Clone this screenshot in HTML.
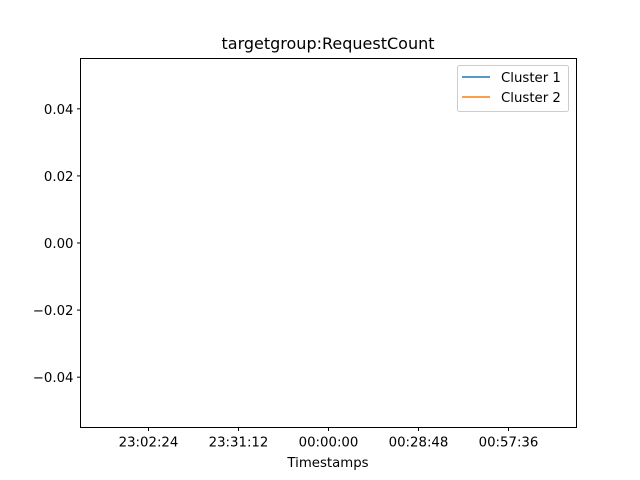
<!DOCTYPE html>
<html><head><meta charset="utf-8"><style>
html,body{margin:0;padding:0;background:#fff;}
svg{display:block;font-family:"DejaVu Sans","Liberation Sans",sans-serif;}
</style></head><body>
<svg id="chart" width="640" height="480" viewBox="0 0 640 480">
<rect x="0" y="0" width="640" height="480" fill="#fff"/>
<text x="328" y="49" text-anchor="middle" font-size="16" fill="#000">targetgroup:RequestCount</text>
<g id="yticks"></g>
<g id="xticks"></g>
<g id="series"></g>
<rect x="80.5" y="58.5" width="496" height="369" fill="none" stroke="#000" stroke-width="1"/>
<text x="328" y="467" text-anchor="middle" font-size="13.3" fill="#000">Timestamps</text>
<g>
<rect x="457.5" y="65.5" width="111" height="46" rx="2" fill="#fff" fill-opacity="0.8" stroke="#ccc"/>
<line x1="462" y1="77" x2="490" y2="77" stroke="#1f77b4" stroke-width="1.5"/>
<text x="501" y="82" font-size="13.3" fill="#000">Cluster 1</text>
<line x1="462" y1="97" x2="490" y2="97" stroke="#ff7f0e" stroke-width="1.5"/>
<text x="501" y="102" font-size="13.3" fill="#000">Cluster 2</text>
</g>
</svg>
<script>
const yTickValues=[0.04,0.02,0.00,-0.02,-0.04];
const yTickLabels=["0.04","0.02","0.00","\u22120.02","\u22120.04"];
const xTickMinutes=[-57.6,-28.8,0,28.8,57.6];
const xTickLabels=["23:02:24","23:31:12","00:00:00","00:28:48","00:57:36"];
const cluster1Times=[];
const cluster1Values=[];
const cluster2Times=[];
const cluster2Values=[];
const NS="http://www.w3.org/2000/svg";
const X0=80.5,X1=576.5,Y0=58.5,Y1=427.5;
const xMin=-79.36,xMax=79.36,yMin=-0.055,yMax=0.055;
function xs(v){return X0+(v-xMin)/(xMax-xMin)*(X1-X0);}
function ys(v){return Y1-(v-yMin)/(yMax-yMin)*(Y1-Y0);}
const yg=document.getElementById('yticks');
yTickValues.forEach((v,i)=>{
 const y=ys(v);
 const l=document.createElementNS(NS,'line');
 l.setAttribute('x1',X0-3.5);l.setAttribute('x2',X0);l.setAttribute('y1',y);l.setAttribute('y2',y);l.setAttribute('stroke','#000');
 
 
 yg.appendChild(l);
 const t=document.createElementNS(NS,'text');
 t.setAttribute('x',X0-7);t.setAttribute('y',y+5);t.setAttribute('text-anchor','end');t.setAttribute('font-size','13.3');
 t.textContent=yTickLabels[i];
 
 
 yg.appendChild(t);
});
const xg=document.getElementById('xticks');
xTickMinutes.forEach((v,i)=>{
 const x=xs(v);
 const l=document.createElementNS(NS,'line');
 l.setAttribute('x1',x);l.setAttribute('x2',x);l.setAttribute('y1',Y1);l.setAttribute('y2',Y1+3.5);l.setAttribute('stroke','#000');
 
 
 xg.appendChild(l);
 const t=document.createElementNS(NS,'text');
 t.setAttribute('x',x);t.setAttribute('y',Y1+19);t.setAttribute('text-anchor','middle');t.setAttribute('font-size','13.3');
 t.textContent=xTickLabels[i];
 
 
 xg.appendChild(t);
});
const sg=document.getElementById('series');
[[cluster1Times,cluster1Values,'#1f77b4','cluster-1-line'],[cluster2Times,cluster2Values,'#ff7f0e','cluster-2-line']].forEach(s=>{
 if(!s[0].length)return;
 const p=document.createElementNS(NS,'polyline');
 p.setAttribute('points',s[0].map((t,i)=>xs(t)+','+ys(s[1][i])).join(' '));
 p.setAttribute('fill','none');p.setAttribute('stroke',s[2]);p.setAttribute('stroke-width','1.5');
 
 
 sg.appendChild(p);
});
</script>
</body></html>
